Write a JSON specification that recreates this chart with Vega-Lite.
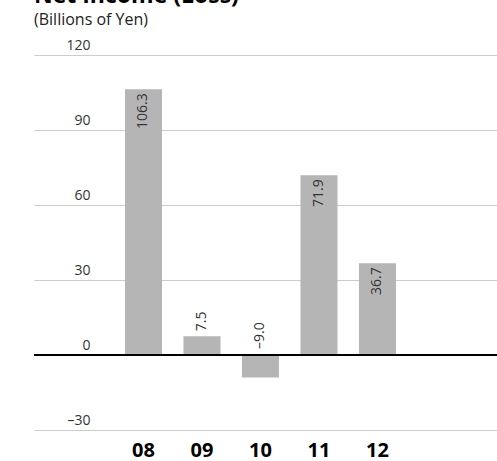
{
  "$schema": "https://vega.github.io/schema/vega-lite/v6.json",
  "autosize": "none",
  "width": 463,
  "height": 375,
  "padding": {"left": 34, "top": 55, "right": 0, "bottom": 31},
  "background": "white",
  "title": {
    "text": "Net Income (Loss)",
    "subtitle": "(Billions of Yen)",
    "anchor": "start",
    "frame": "group",
    "font": "Open Sans",
    "fontSize": 23,
    "fontWeight": "bold",
    "color": "#000000",
    "subtitleFont": "Open Sans",
    "subtitleFontSize": 16,
    "subtitleColor": "#222222",
    "subtitlePadding": 4,
    "offset": 10
  },
  "config": {
    "view": {"stroke": null},
    "font": "Open Sans"
  },
  "data": {
    "values": [
      {"year": "08", "value": 106.3, "label": "106.3"},
      {"year": "09", "value": 7.5, "label": "7.5"},
      {"year": "10", "value": -9.0, "label": "–9.0"},
      {"year": "11", "value": 71.9, "label": "71.9"},
      {"year": "12", "value": 36.7, "label": "36.7"}
    ]
  },
  "encoding": {
    "x": {
      "field": "year",
      "type": "ordinal",
      "sort": null,
      "scale": {
        "domain": ["_a", "08", "09", "10", "11", "12", "_b"],
        "paddingInner": 0.367,
        "paddingOuter": 0.641,
        "align": 0.433
      },
      "axis": {
        "title": null,
        "values": ["08", "09", "10", "11", "12"],
        "labelAngle": 0,
        "ticks": false,
        "domain": false,
        "grid": false,
        "labelFont": "Open Sans",
        "labelFontSize": 20,
        "labelFontWeight": "bold",
        "labelColor": "#000000",
        "labelPadding": 10
      }
    }
  },
  "layer": [
    {
      "mark": {"type": "bar", "color": "#b5b5b5"},
      "encoding": {
        "y": {
          "field": "value",
          "type": "quantitative",
          "scale": {"domain": [-30, 120], "nice": false},
          "axis": {
            "title": null,
            "values": [-30, 0, 30, 60, 90, 120],
            "grid": true,
            "gridColor": "#cccccc",
            "gridWidth": 1.2,
            "domain": false,
            "ticks": false,
            "labelPadding": -56,
            "labelAlign": "right",
            "labelBaseline": "middle",
            "labelOffset": -10,
            "labelFont": "Open Sans",
            "labelFontSize": 14,
            "labelColor": "#333333",
            "labelExpr": "datum.value < 0 ? '–' + abs(datum.value) : datum.label"
          }
        }
      }
    },
    {
      "mark": {"type": "rule", "color": "#000000", "strokeWidth": 2},
      "encoding": {"y": {"datum": 0, "type": "quantitative"}, "x": null}
    },
    {
      "transform": [{"filter": "datum.value > 20"}],
      "mark": {"type": "text", "angle": -90, "align": "right", "baseline": "middle", "dx": -4, "fontSize": 14, "color": "#333333", "font": "Open Sans"},
      "encoding": {
        "y": {"field": "value", "type": "quantitative"},
        "text": {"field": "label"}
      }
    },
    {
      "transform": [{"filter": "datum.value > 0 && datum.value <= 20"}],
      "mark": {"type": "text", "angle": -90, "align": "left", "baseline": "middle", "dx": 5, "fontSize": 14, "color": "#333333", "font": "Open Sans"},
      "encoding": {
        "y": {"field": "value", "type": "quantitative"},
        "text": {"field": "label"}
      }
    },
    {
      "transform": [{"filter": "datum.value < 0"}],
      "mark": {"type": "text", "angle": -90, "align": "left", "baseline": "middle", "dx": 6, "fontSize": 14, "color": "#333333", "font": "Open Sans"},
      "encoding": {
        "y": {"datum": 0, "type": "quantitative"},
        "text": {"field": "label"}
      }
    }
  ]
}
